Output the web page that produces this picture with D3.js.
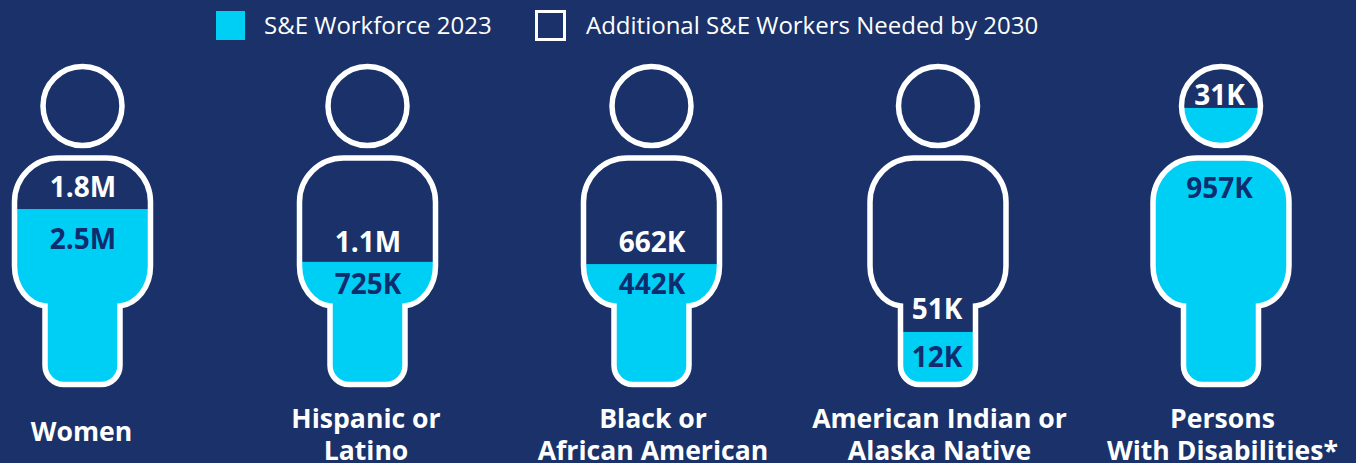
<!DOCTYPE html>
<html><head><meta charset="utf-8">
<script src="https://cdn.jsdelivr.net/npm/d3@7"></script>
<style>html,body{margin:0;padding:0;background:#1a3269;overflow:hidden}svg{display:block;font-family:"Open Sans",sans-serif}</style>
</head><body><svg id="c" width="1356" height="463"></svg>
<script>
const categories=["Women","Hispanic or Latino","Black or African American","American Indian or Alaska Native","Persons With Disabilities*"];
const labelLines=[["Women"],["Hispanic or","Latino"],["Black or","African American"],["American Indian or","Alaska Native"],["Persons","With Disabilities*"]];
const workforce2023=["2.5M","725K","442K","12K","957K"];
const additionalNeeded=["1.8M","1.1M","662K","51K","31K"];
// share of the pictogram height (0-100) that is filled
const filledShare=[55.3,38.8,38.1,16.9,86.9];
const legendItems=["S&E Workforce 2023","Additional S&E Workers Needed by 2030"];
const cyan="#00cff5",white="#ffffff",bg="#1a3269",navy="#0e2c6e";

const svg=d3.select("#c");
svg.append("rect").attr("width",1356).attr("height",463).attr("fill",bg);
const x=d3.scaleOrdinal().domain(categories).range([82.5,367.5,651.5,938,1221]);
const y=d3.scaleLinear().domain([0,100]).range([386,66]);
const labelX=d3.scaleOrdinal().domain(categories).range([81.5,366,653,939.5,1222.5]);
const valueX=d3.scaleOrdinal().domain(categories).range([83,368,652,937,1219.5]);

function bodyPath(cx){
  const p=d3.path(),W=68,L=37.5,T=158,B=384.5,R=44,r=19;
  p.moveTo(cx-W+R,T);
  p.lineTo(cx+W-R,T);
  p.arcTo(cx+W,T,cx+W,T+R,R);
  p.lineTo(cx+W,266);
  p.bezierCurveTo(cx+W,287,cx+L+17,304,cx+L,306);
  p.lineTo(cx+L,B-r);
  p.arcTo(cx+L,B,cx+L-r,B,r);
  p.lineTo(cx-L+r,B);
  p.arcTo(cx-L,B,cx-L,B-r,r);
  p.lineTo(cx-L,306);
  p.bezierCurveTo(cx-L-17,304,cx-W,287,cx-W,266);
  p.lineTo(cx-W,T+R);
  p.arcTo(cx-W,T,cx-W+R,T,R);
  p.closePath();
  return p.toString();
}
const headY=106,headR=39.5;
const defs=svg.append("defs");
categories.forEach((c,i)=>{
  const cp=defs.append("clipPath").attr("id","clip"+i);
  cp.append("path").attr("d",bodyPath(x(c)));
  cp.append("circle").attr("cx",x(c)).attr("cy",headY).attr("r",headR);
});
const g=svg.selectAll("g.person").data(categories).join("g").attr("class","person");
g.append("rect").attr("clip-path",(d,i)=>`url(#clip${i})`)
  .attr("x",d=>x(d)-75).attr("width",150)
  .attr("y",(d,i)=>y(filledShare[i])).attr("height",(d,i)=>y(0)-y(filledShare[i])).attr("fill",cyan);
g.append("path").attr("d",d=>bodyPath(x(d))).attr("fill","none").attr("stroke",white).attr("stroke-width",5.5);
g.append("circle").attr("cx",d=>x(d)).attr("cy",headY).attr("r",headR).attr("fill","none").attr("stroke",white).attr("stroke-width",5.5);

const val=(sel,off,col,arr)=>sel.append("text").attr("x",d=>valueX(d)).attr("text-anchor","middle")
  .attr("y",(d,i)=>y(filledShare[i])+off[i]).attr("fill",col).attr("font-size",28).attr("font-weight",700).text((d,i)=>arr[i]);
val(g,[-12,-10,-12,-13,-3],white,additionalNeeded);
val(g,[40,32,30,35,90],navy,workforce2023);

labelLines.forEach((ls,i)=>{
  const t=svg.append("text").attr("text-anchor","middle").attr("fill",white).attr("font-size",26.6).attr("font-weight",700);
  const ys=ls.length===1?[441]:[428,460];
  ls.forEach((l,j)=>t.append("tspan").attr("x",labelX(categories[i])).attr("y",ys[j]).text(l));
});

svg.append("rect").attr("x",216).attr("y",11).attr("width",29).attr("height",29).attr("fill",cyan);
svg.append("rect").attr("x",536.5).attr("y",11.5).attr("width",28).attr("height",28).attr("fill","none").attr("stroke",white).attr("stroke-width",3);
[264,586].forEach((lx,i)=>svg.append("text").attr("x",lx).attr("y",34).attr("fill",white).attr("font-size",24).text(legendItems[i]));
</script></body></html>
